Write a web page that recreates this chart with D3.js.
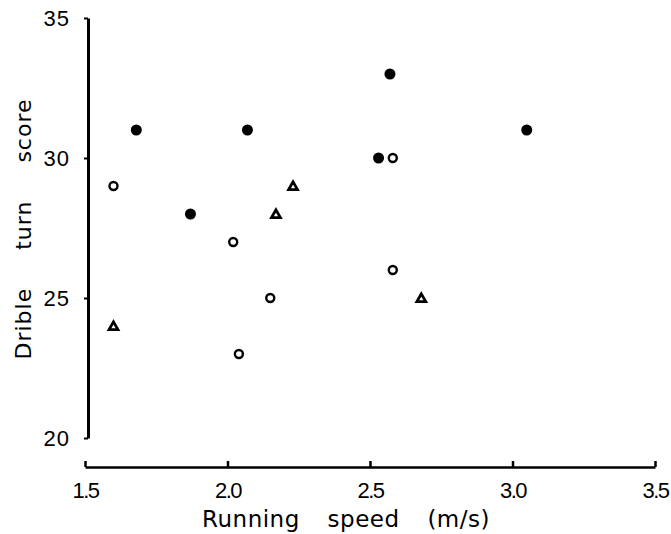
<!DOCTYPE html>
<html>
<head>
<meta charset="utf-8">
<script src="https://cdn.jsdelivr.net/npm/d3@7"></script>
<style>
  body { margin: 0; background: #fff; }
  text { fill: #000; }
</style>
</head>
<body>
<div id="scatter"></div>
<script>
// data
var filledX = [1.68, 2.07, 1.87, 2.57, 2.53, 3.05];
var filledY = [31, 31, 28, 33, 30, 31];

var openX = [1.60, 2.02, 2.15, 2.04, 2.58, 2.58];
var openY = [29, 27, 25, 23, 30, 26];

var triX = [1.60, 2.17, 2.23, 2.68];
var triY = [24, 28, 29, 25];

var xTicks = [1.5, 2.0, 2.5, 3.0, 3.5];
var yTicks = [20, 25, 30, 35];

var svgWidth = 671;
var svgHeight = 534;

var numFont = "'Liberation Sans', Arial, sans-serif";
var titleFont = "'DejaVu Sans', sans-serif";

var svg = d3.select("#scatter")
  .append("svg")
  .attr("width", svgWidth)
  .attr("height", svgHeight);

var xScale = d3.scaleLinear().domain([1.5, 3.5]).range([85, 655]);
var yScale = d3.scaleLinear().domain([20, 35]).range([438, 18]);

// x axis, ticks pointing up
var bottomAxis = d3.axisBottom(xScale)
  .tickValues(xTicks)
  .tickFormat(d3.format(".1f"))
  .tickSizeInner(-6)
  .tickSizeOuter(0)
  .tickPadding(15);

var xAxis = svg.append("g")
  .attr("transform", "translate(0,467)")
  .call(bottomAxis);

xAxis.select(".domain").attr("stroke-width", 2.5);
xAxis.selectAll(".tick line").attr("stroke-width", 2.5);
xAxis.selectAll("text")
  .attr("font-size", 22)
  .attr("letter-spacing", -1.5)
  .style("font-family", numFont);

// y axis
var leftAxis = d3.axisLeft(yScale)
  .tickValues(yTicks)
  .tickSizeInner(4)
  .tickSizeOuter(0)
  .tickPadding(14);

var yAxis = svg.append("g")
  .attr("transform", "translate(88,0)")
  .call(leftAxis);

yAxis.select(".domain").attr("stroke-width", 3);
yAxis.selectAll(".tick line").attr("stroke-width", 2);
yAxis.selectAll("text")
  .attr("font-size", 22)
  .attr("letter-spacing", 1)
  .style("font-family", numFont);

// axis titles
svg.append("text")
  .attr("x", 346)
  .attr("y", 527)
  .attr("text-anchor", "middle")
  .attr("font-size", 23)
  .attr("word-spacing", 20)
  .attr("letter-spacing", 0.5)
  .style("font-family", titleFont)
  .text("Running speed (m/s)");

svg.append("text")
  .attr("transform", "translate(31,229) rotate(-90)")
  .attr("text-anchor", "middle")
  .attr("font-size", 22)
  .attr("word-spacing", 30)
  .attr("letter-spacing", 1)
  .style("font-family", titleFont)
  .text("Drible turn score");

// filled circles
svg.selectAll(".filled")
  .data(filledX)
  .enter()
  .append("circle")
  .attr("class", "filled")
  .attr("cx", d => xScale(d))
  .attr("cy", (d, i) => yScale(filledY[i]))
  .attr("r", 5.5)
  .attr("fill", "#000");

// open circles
svg.selectAll(".open")
  .data(openX)
  .enter()
  .append("circle")
  .attr("class", "open")
  .attr("cx", d => xScale(d))
  .attr("cy", (d, i) => yScale(openY[i]))
  .attr("r", 4)
  .attr("fill", "#fff")
  .attr("stroke", "#000")
  .attr("stroke-width", 2.4);

// triangles
var tri = d3.symbol().type(d3.symbolTriangle).size(34);
svg.selectAll(".tri")
  .data(triX)
  .enter()
  .append("path")
  .attr("class", "tri")
  .attr("d", tri)
  .attr("transform", (d, i) => `translate(${xScale(d)},${yScale(triY[i]) + 1})`)
  .attr("fill", "#fff")
  .attr("stroke", "#000")
  .attr("stroke-width", 2.8)
  .attr("stroke-linejoin", "miter");
</script>
</body>
</html>
